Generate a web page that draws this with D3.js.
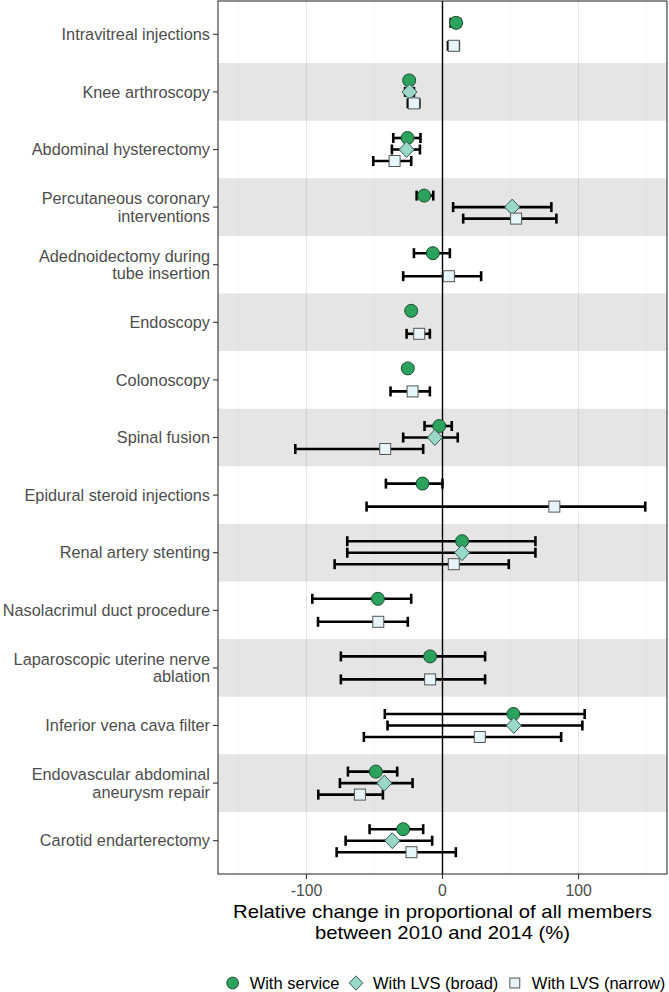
<!DOCTYPE html>
<html><head><meta charset="utf-8">
<script src="https://cdn.jsdelivr.net/npm/d3@7"></script>
<style>body{margin:0;background:#fff}svg{display:block;font-family:"Liberation Sans",Arial,sans-serif}</style>
</head><body><svg id="c" width="669" height="992"></svg>
<script>
const categories = ["Intravitreal injections","Knee arthroscopy","Abdominal hysterectomy","Percutaneous coronary\ninterventions","Adednoidectomy during\ntube insertion","Endoscopy","Colonoscopy","Spinal fusion","Epidural steroid injections","Renal artery stenting","Nasolacrimul duct procedure","Laparoscopic uterine nerve\nablation","Inferior vena cava filter","Endovascular abdominal\naneurysm repair","Carotid endarterectomy"];
const serviceVal = [10,-24.5,-25.7,-13.5,-7.1,-23,-25.5,-2.4,-14.7,14.4,-47.5,-9.1,52.1,-49,-28.9];
const serviceLo  = [6,-27,-36.2,-19,-21,-24.5,-27,-13.2,-41.6,-70,-95.7,-74.7,-42.4,-69.5,-53.6];
const serviceHi  = [13,-22,-16.2,-6.8,5.4,-21.5,-24,6.8,0,68.3,-23,31.3,104.5,-33.3,-14.2];
const broadVal = [null,-24.2,-26.4,51.2,null,null,null,-5.6,null,14.4,null,null,52.4,-42.8,-36.9];
const broadLo  = [null,-27.5,-37.2,7.8,null,null,null,-28.9,null,-70,null,null,-40.4,-75.4,-71.2];
const broadHi  = [null,-21,-16.6,80,null,null,null,11.2,null,68.3,null,null,102.8,-22,-7.6];
const narrowVal = [8.3,-21,-35.2,54.1,4.7,-17.1,-22,-42.1,82.2,8.3,-47.2,-9.1,27.4,-60.7,-22.8];
const narrowLo  = [4,-25.5,-50.9,15.2,-28.9,-26.4,-38.2,-108.2,-55.8,-79.3,-91.5,-74.7,-57.8,-91.3,-77.8];
const narrowHi  = [12,-17,-23,83.7,28.4,-9.3,-9.3,-14.2,149,48.7,-25.5,31.3,87.2,-43.8,9.8];
const xTicks = [-100,0,100];
const xMinor = [-150,-50,50,150];
const seriesNames = ["With service","With LVS (broad)","With LVS (narrow)"];
const seriesKeys = ["service","broad","narrow"];
const titleLines = ["Relative change in proportional of all members","between 2010 and 2014 (%)"];
const fills = ["#2ca25f","#99d8c9","#e5f5f9"];
const strokes = ["#1a4d2e","#3d5a55","#555"];

const svg = d3.select("#c");
const L = 218, R = 667, T = 1, B = 874;
const x = d3.scaleLinear().domain([-165,165]).range([L,R]);
const y = d3.scaleBand().domain(categories).range([5.5,869.5]);
const dodge = d3.scalePoint().domain(seriesKeys).range([-11.5,11.5]);
const bw = y.bandwidth();

// bands
svg.append("g").selectAll("rect").data(categories.filter((d,i)=>i%2===1)).join("rect")
  .attr("x",L).attr("width",R-L).attr("y",d=>y(d)).attr("height",bw).attr("fill","#e5e5e5");
// grid
const g = svg.append("g");
g.selectAll(".mn").data(xMinor).join("line").attr("x1",d=>x(d)).attr("x2",d=>x(d)).attr("y1",T).attr("y2",B)
  .attr("stroke","rgba(0,0,0,0.06)").attr("stroke-width",0.6);
g.selectAll(".mj").data(xTicks).join("line").attr("x1",d=>x(d)).attr("x2",d=>x(d)).attr("y1",T).attr("y2",B)
  .attr("stroke","rgba(0,0,0,0.09)").attr("stroke-width",1.1);
// zero line
svg.append("line").attr("x1",x(0)).attr("x2",x(0)).attr("y1",T).attr("y2",B).attr("stroke","#000").attr("stroke-width",1.4);

const series = [
  {key:"service", v:serviceVal, lo:serviceLo, hi:serviceHi},
  {key:"broad", v:broadVal, lo:broadLo, hi:broadHi},
  {key:"narrow", v:narrowVal, lo:narrowLo, hi:narrowHi}
];
const pts = [];
series.forEach((s,si)=>categories.forEach((c,i)=>{ if(s.v[i]!==null) pts.push({c, si, key:s.key, v:s.v[i], lo:s.lo[i], hi:s.hi[i]}); }));
const cy = d=>y(d.c)+bw/2+dodge(d.key);
// error bars
const eb = svg.append("g").attr("stroke","#000").attr("stroke-width",2.6);
pts.forEach(d=>{
  const yy = cy(d);
  eb.append("line").attr("x1",x(d.lo)).attr("x2",x(d.hi)).attr("y1",yy).attr("y2",yy);
  eb.append("line").attr("x1",x(d.lo)).attr("x2",x(d.lo)).attr("y1",yy-5).attr("y2",yy+5);
  eb.append("line").attr("x1",x(d.hi)).attr("x2",x(d.hi)).attr("y1",yy-5).attr("y2",yy+5);
});
function marker(sel, si, cx, cyv, s){
  if(si===0) sel.append("circle").attr("cx",cx).attr("cy",cyv).attr("r",6.5*s).attr("fill",fills[0]).attr("stroke",strokes[0]).attr("stroke-width",1);
  else if(si===1) sel.append("path").attr("d",`M${cx},${cyv-8*s}L${cx+7.5*s},${cyv}L${cx},${cyv+8*s}L${cx-7.5*s},${cyv}Z`).attr("fill",fills[1]).attr("stroke",strokes[1]).attr("stroke-width",1);
  else sel.append("rect").attr("x",cx-5.5*s).attr("y",cyv-5.5*s).attr("width",11*s).attr("height",11*s).attr("fill",fills[2]).attr("stroke",strokes[2]).attr("stroke-width",1);
}
const mg = svg.append("g");
pts.forEach(d=>marker(mg, d.si, x(d.v), cy(d), 1));

// panel border
svg.append("rect").attr("x",L).attr("y",T).attr("width",R-L).attr("height",B-T).attr("fill","none").attr("stroke","#333").attr("stroke-width",1.1);

// y axis
const ya = svg.append("g");
categories.forEach(c=>{
  const yc = y(c)+bw/2;
  ya.append("line").attr("x1",L-5).attr("x2",L).attr("y1",yc).attr("y2",yc).attr("stroke","#333").attr("stroke-width",1.1);
  const lines = c.split("\n");
  const t = ya.append("text").attr("x",L-8).attr("text-anchor","end").attr("font-size",16.3).attr("fill","#4d4d4d");
  lines.forEach((ln,k)=>{
    t.append("tspan").attr("x",L-8).attr("y", yc + (k-(lines.length-1)/2)*17.7).attr("dy","0.35em").text(ln);
  });
});
// x axis
const xa = svg.append("g");
xTicks.forEach(v=>{
  xa.append("line").attr("x1",x(v)).attr("x2",x(v)).attr("y1",B).attr("y2",B+5).attr("stroke","#333").attr("stroke-width",1.1);
  xa.append("text").attr("x",x(v)).attr("y",B+16).attr("dy","0.35em").attr("text-anchor","middle").attr("font-size",15.8).attr("fill","#4d4d4d").text(d3.format("d")(v).replace("−","-"));
});
const titleY = [911, 932.5];
const titleW = [419, 255];
titleLines.forEach((ln,k)=>{
  svg.append("text").attr("x",(L+R)/2).attr("y",titleY[k]).attr("dy","0.35em").attr("text-anchor","middle")
    .attr("font-size",18.6).attr("fill","#000").attr("textLength",titleW[k]).attr("lengthAdjust","spacingAndGlyphs").text(ln);
});

// legend
const lg = svg.append("g");
const items = [];
seriesNames.forEach((n,i)=>{
  const it = lg.append("g");
  marker(it, i, 0, 0, 0.9);
  const t = it.append("text").attr("x",17).attr("y",0).attr("dy","0.35em").attr("font-size",16.5).attr("fill","#000").text(n);
  const w = 17 + t.node().getComputedTextLength();
  items.push({it, w});
});
const gap = 16.5;
const total = d3.sum(items, d=>d.w) + gap*(items.length-1) + 6;
let start = 446 - total/2 + 6;
items.forEach(d=>{ d.it.attr("transform",`translate(${start},983)`); start += d.w + gap; });
</script></body></html>
